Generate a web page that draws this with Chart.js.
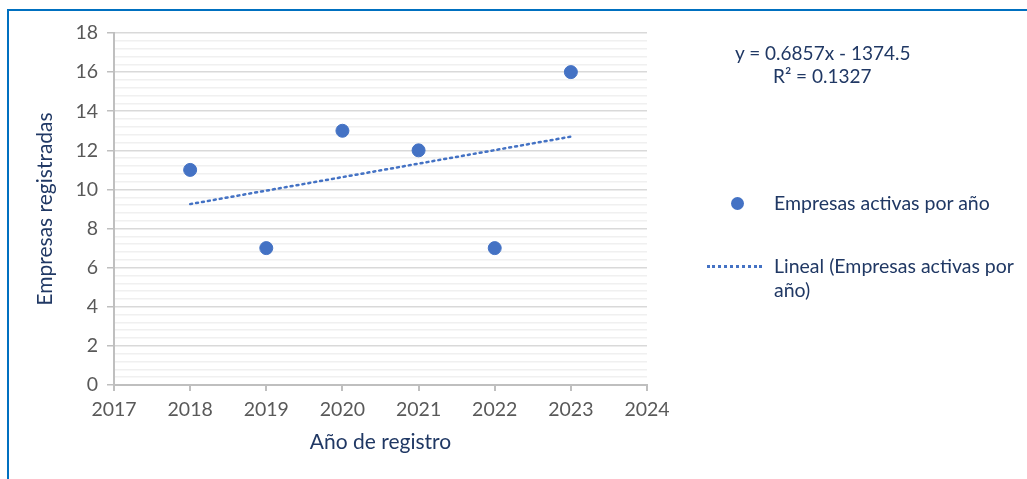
<!DOCTYPE html>
<html>
<head>
<meta charset="utf-8">
<script src="https://cdn.jsdelivr.net/npm/chart.js@4.4.0/dist/chart.umd.min.js"></script>
<style>
  html,body{margin:0;padding:0;background:#fff}
  body{width:1027px;height:479px;position:relative;overflow:hidden;font-family:Lato,"Noto Sans",sans-serif}
  #wrap{position:absolute;left:0;top:0;width:1027px;height:479px}
  .frame-left{position:absolute;left:7px;top:9px;width:2px;height:470px;background:#0070C0}
  .frame-top{position:absolute;left:7px;top:9px;width:1020px;height:2px;background:#0070C0}
  .eq{position:absolute;color:#203864;font-size:19px;white-space:nowrap;line-height:23px}
  .leg{position:absolute;color:#203864;font-size:19.5px;white-space:nowrap;line-height:24px}
  .dot{position:absolute;width:13px;height:13px;border-radius:50%;background:#4472C4}
  .dash{position:absolute;height:0;border-top:3px dotted #4472C4}
</style>
</head>
<body>
<div id="wrap"><canvas id="chart" width="1027" height="479"></canvas></div>
<div class="frame-left"></div>
<div class="frame-top"></div>
<div class="eq" style="left:735px;top:41px">y = 0.6857x - 1374.5</div>
<div class="eq" style="left:773px;top:64px">R² = 0.1327</div>
<div class="dot" style="left:731px;top:197px"></div>
<div class="leg" style="left:774px;top:191px">Empresas activas por año</div>
<div class="dash" style="left:707px;top:265px;width:55px"></div>
<div class="leg" style="left:774px;top:254px">Lineal (Empresas activas por<br>año)</div>
<script>
// datos
const years = [2018, 2019, 2020, 2021, 2022, 2023]
const empresas = [11, 7, 13, 12, 7, 16]
// extremos de la linea de tendencia (lineal)
const trendYears = [2018, 2023]
const trendValues = [9.25, 12.7]

const blue = '#4472C4'
const isMajor = v => Math.abs(v/2 - Math.round(v/2)) < 1e-6

const ctx = document.getElementById('chart').getContext('2d')
new Chart(ctx, {
  type: 'scatter',
  data: {
    datasets: [
      {label: 'Empresas activas por año', data: years.map((x,i)=>({x, y: empresas[i]})),
        backgroundColor: blue, borderColor: blue, pointRadius: 6.5, pointHoverRadius: 6.5},
      {label: 'Lineal (Empresas activas por año)', type: 'line', data: trendYears.map((x,i)=>({x, y: trendValues[i]})),
        borderColor: blue, borderWidth: 2.5, borderDash: [2, 4], borderCapStyle: 'round', pointRadius: 0, fill: false}
    ]
  },
  options: {
    responsive: false, animation: false,
    layout: {padding: {left: 29, right: 380, top: 33, bottom: 20}},
    plugins: {legend: {display: false}, tooltip: {enabled: false}},
    scales: {
      x: {
        type: 'linear', min: 2017, max: 2024,
        afterFit: a => { a.height = 74 },
        ticks: {stepSize: 1, color: '#595959', font: {family: 'Lato', size: 19.5}, padding: 7, callback: v => String(v)},
        grid: {drawOnChartArea: false, drawTicks: true, tickLength: 6, color: '#bfbfbf', lineWidth: 2},
        border: {color: '#bfbfbf', width: 2},
        title: {display: true, text: 'Año de registro', color: '#203864', font: {family: 'Lato', size: 21}}
      },
      y: {
        min: 0, max: 18,
        afterFit: a => { a.width = 85 },
        afterBuildTicks: a => { const t = []; for (let i = 0; i <= 45; i++) t.push({value: Math.round(i*0.4*10)/10}); a.ticks = t },
        ticks: {autoSkip: false, color: '#595959', font: {family: 'Lato', size: 19.5}, padding: 9,
          callback: v => isMajor(v) ? String(Math.round(v)) : ''},
        grid: {
          color: c => isMajor(c.tick.value) ? '#d9d9d9' : '#f0f0f0',
          lineWidth: 1.5,
          tickColor: c => isMajor(c.tick.value) ? '#bfbfbf' : 'rgba(0,0,0,0)',
          tickLength: 7
        },
        border: {color: '#bfbfbf', width: 2},
        title: {display: true, text: 'Empresas registradas', color: '#203864', font: {family: 'Lato', size: 21}}
      }
    }
  }
})
</script>
</body>
</html>
